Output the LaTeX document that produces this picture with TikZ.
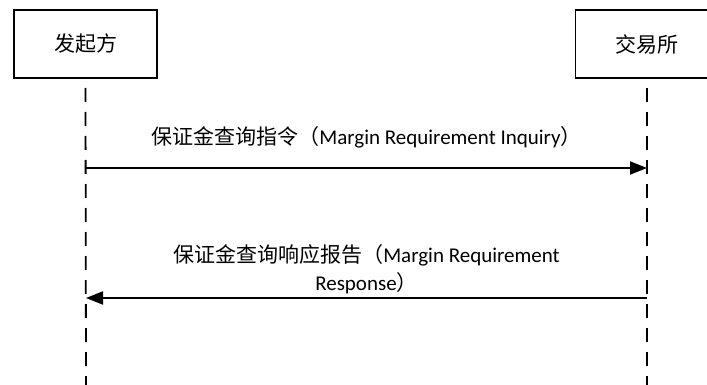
\documentclass[tikz,border=0pt]{standalone}
\usepackage{fontspec}
\setmainfont{Carlito}
\newfontfamily\cjk{Noto Sans CJK SC}
\usetikzlibrary{arrows.meta}
\tikzset{
  actor/.style={draw, line width=1.8pt, minimum width=143pt, minimum height=68pt, font=\cjk\fontsize{21}{24}\selectfont},
  lifeline/.style={line width=1.8pt, dash pattern=on 14pt off 10pt},
  msg/.style={line width=1.8pt, -{Triangle[length=17pt,width=13pt]}},
  msglabel/.style={font=\fontsize{21}{28}\selectfont, align=center}
}
\begin{document}
\begin{tikzpicture}[x=1pt,y=-1pt]
  \useasboundingbox (0,0) rectangle (707,385);
  % Participantes
  \node[actor] (fqf) at (85.5,44) {发起方};
  \node[actor] (jys) at (647,44) {交易所};

  % Lineas de vida
  \coordinate (fqfend) at (86,385);
  \coordinate (jysend) at (647,385);
  \draw[lifeline] (fqf.south |- 0,88) -- (fqfend);
  \draw[lifeline] (jys.south |- 0,88) -- (jysend);

  % Mensajes
  \coordinate (a1) at (86,168);
  \coordinate (b1) at (647,168);
  \coordinate (a2) at (86,298);
  \coordinate (b2) at (647,298);
  \draw[msg] (a1) -- (b1) node[midway, above=16pt, msglabel] {{\cjk 保证金查询指令（}Margin Requirement Inquiry{\cjk ）}};
  \draw[msg] (b2) -- (a2) node[midway, above=0pt, msglabel] {{\cjk 保证金查询响应报告（}Margin Requirement\\Response{\cjk ）}};
\end{tikzpicture}
\end{document}
